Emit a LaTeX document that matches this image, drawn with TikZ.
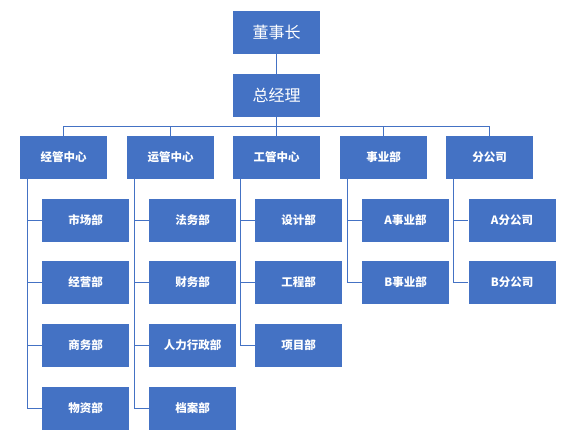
\documentclass[tikz,border=0pt]{standalone}
\usepackage{fontspec}
\newfontfamily\cjk{Noto Sans CJK SC}
\definecolor{boxblue}{HTML}{4472C4}
\begin{document}
\begin{tikzpicture}[x=1pt,y=-1pt,
  box/.style={rectangle,fill=boxblue,text=white,minimum width=87pt,minimum height=43pt,inner sep=0pt,font=\cjk\bfseries\fontsize{11.5}{13}\selectfont},
  topbox/.style={box,font=\cjk\fontsize{16}{18}\selectfont},
  link/.style={draw=boxblue,line width=1pt}]
\useasboundingbox (0,0) rectangle (572,443);
\node[topbox] (ceo) at (276.5,32.5) {董事长};
\node[topbox] (gm) at (276.5,95.5) {总经理};
\coordinate (bus) at (0,126.5);
\node[box] (c1) at (63.5,157.5) {经管中心};
\node[box] (c2) at (170.5,157.5) {运管中心};
\node[box] (c3) at (276.5,157.5) {工管中心};
\node[box] (c4) at (383.5,157.5) {事业部};
\node[box] (c5) at (489.5,157.5) {分公司};
% column 1
\node[box] (a1) at (85.5,220.5) {市场部};
\node[box] (a2) at (85.5,282.5) {经营部};
\node[box] (a3) at (85.5,345.5) {商务部};
\node[box] (a4) at (85.5,408.5) {物资部};
% column 2
\node[box] (b1) at (192.5,220.5) {法务部};
\node[box] (b2) at (192.5,282.5) {财务部};
\node[box] (b3) at (192.5,345.5) {人力行政部};
\node[box] (b4) at (192.5,408.5) {档案部};
% column 3
\node[box] (d1) at (298.5,220.5) {设计部};
\node[box] (d2) at (298.5,282.5) {工程部};
\node[box] (d3) at (298.5,345.5) {项目部};
% column 4
\node[box] (e1) at (405.5,220.5) {A事业部};
\node[box] (e2) at (405.5,282.5) {B事业部};
% column 5
\node[box] (f1) at (512,220.5) {A分公司};
\node[box] (f2) at (512,282.5) {B分公司};
% connectors
\draw[link] (ceo) -- (gm);
\draw[link] (gm.south) -- (gm.south |- bus);
\draw[link] (c1.north |- bus) -- (c5.north |- bus);
\foreach \c in {c1,c2,c3,c4,c5} \draw[link] (\c.north |- bus) -- (\c.north);
\foreach \c in {a1,a2,a3,a4} \draw[link] ([xshift=8pt]c1.south west) |- (\c.west);
\foreach \c in {b1,b2,b3,b4} \draw[link] ([xshift=8pt]c2.south west) |- (\c.west);
\foreach \c in {d1,d2,d3} \draw[link] ([xshift=8pt]c3.south west) |- (\c.west);
\foreach \c in {e1,e2} \draw[link] ([xshift=8pt]c4.south west) |- (\c.west);
\foreach \c in {f1,f2} \draw[link] ([xshift=8pt]c5.south west) |- (\c.west);
\end{tikzpicture}
\end{document}
